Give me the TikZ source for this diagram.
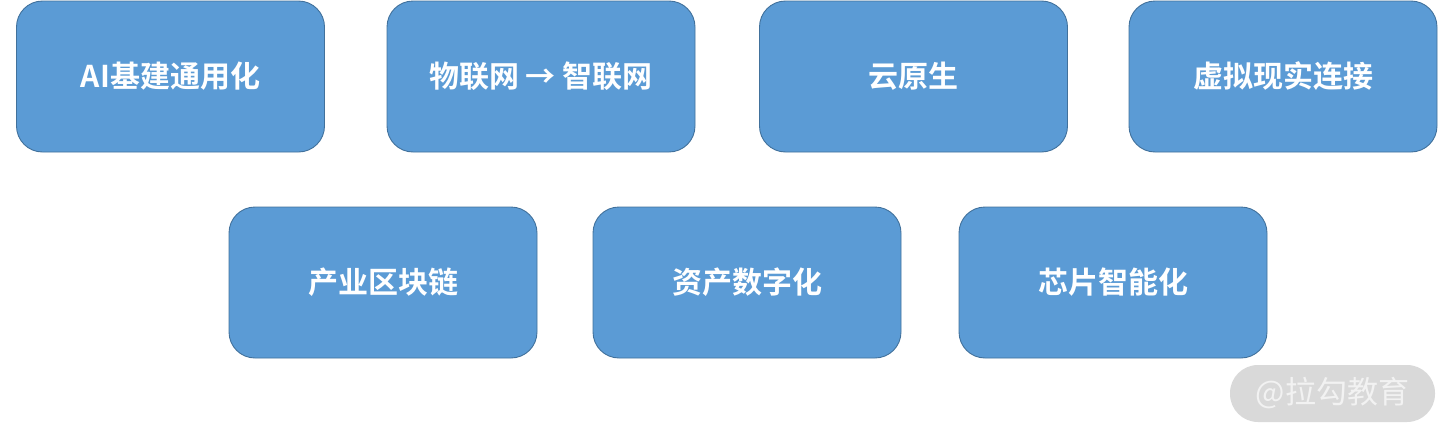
\documentclass[tikz,border=0pt]{standalone}
\usepackage{fontspec}
\newfontfamily\cjk{Noto Sans CJK SC}[BoldFont={* Bold}]
\definecolor{boxfill}{HTML}{5B9BD5}
\definecolor{boxline}{HTML}{41719C}
\definecolor{wmfill}{HTML}{D9D9D9}
\definecolor{wmtext}{HTML}{F2F2F2}
\begin{document}
\begin{tikzpicture}[x=1pt,y=-1pt,
  card/.style={draw=boxline,fill=boxfill,line width=0.9pt,rounded corners=26pt,
    minimum width=308pt,minimum height=151pt,inner sep=0pt,
    text=white,font=\cjk\bfseries\fontsize{30}{34}\selectfont},
  wm/.style={fill=wmfill,rounded corners=28pt,minimum width=205pt,minimum height=57pt,
    inner sep=0pt,text=wmtext,font=\cjk\fontsize{31}{34}\selectfont}]
\useasboundingbox (0,0) rectangle (1454,442);
\node[card] (a1) at (170.5,76.5) {AI基建通用化};
\node[card] (a2) at (541,76.5) {物联网 → 智联网};
\node[card] (a3) at (913.5,76.5) {云原生};
\node[card] (a4) at (1283,76.5) {虚拟现实连接};
\node[card] (b1) at (383,282.5) {产业区块链};
\node[card] (b2) at (747,282.5) {资产数字化};
\node[card] (b3) at (1113,282.5) {芯片智能化};
\node[wm] (w) at (1332.5,393.5) {@拉勾教育};
\end{tikzpicture}
\end{document}
